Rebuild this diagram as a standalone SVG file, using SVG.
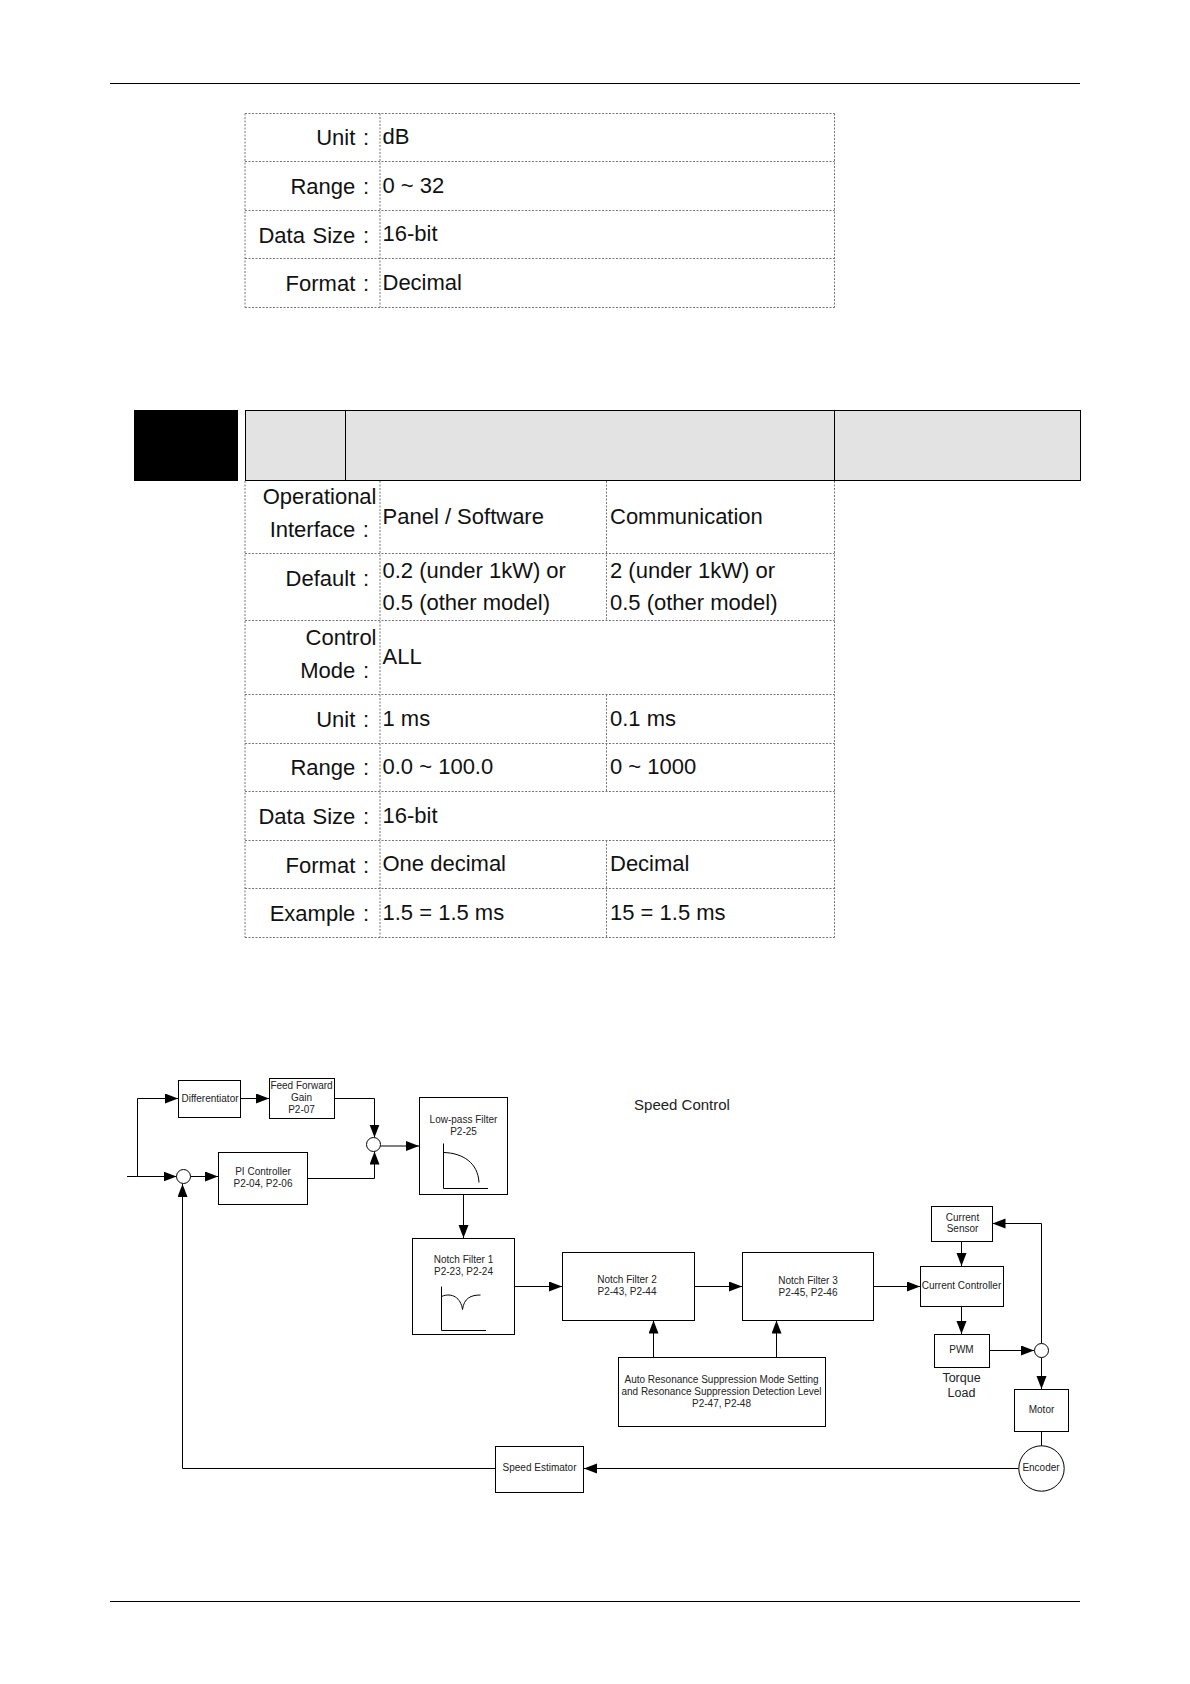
<svg xmlns="http://www.w3.org/2000/svg" width="1190" height="1684" viewBox="0 0 1190 1684">
<defs>
<marker id="ah" markerUnits="userSpaceOnUse" markerWidth="14" markerHeight="11" refX="13" refY="5" orient="auto"><path d="M0 0L13 5L0 10Z" fill="#000"/></marker>
</defs>
<style>
text{font-family:"Liberation Sans",Arial,sans-serif}
.t{font-size:22px;fill:#111}
.l{text-anchor:end;word-spacing:1.5px}
.b{font-size:10px;fill:#222;text-anchor:middle}
.d{stroke:#777;stroke-width:1;stroke-dasharray:2 1.5;fill:none}
.n{fill:#fff;stroke:#000;stroke-width:1}
.c{fill:none;stroke:#000;stroke-width:1}
.a{marker-end:url(#ah)}
.r{stroke:#000;stroke-width:1;fill:none}
</style>
<rect width="1190" height="1684" fill="#fff"/>
<g id="page-rules">
<path class="r" d="M110 83.500H1080M110 1601.500H1080"/>
</g>
<g id="table-top">
<path class="d" d="M245 113.500H834.500M245 161.500H834.500M245 210.500H834.500M245 258.500H834.500M245 307.500H834.500M245 113.500V307.500M380 113.500V307.500M834.500 113.500V307.500"/>
<g class="t">
<text class="l" x="369" y="144.500">Unit :</text><text x="382.500" y="144">dB</text>
<text class="l" x="369" y="194">Range :</text><text x="382.500" y="193">0 ~ 32</text>
<text class="l" x="369" y="242.500">Data Size :</text><text x="382.500" y="241">16-bit</text>
<text class="l" x="369" y="291">Format :</text><text x="382.500" y="290">Decimal</text>
</g>
</g>
<g id="header">
<rect x="134" y="410" width="104" height="71" fill="#000"/>
<rect x="245.500" y="410.500" width="835" height="70" fill="#e3e3e3" stroke="#000"/>
<path class="r" d="M345.500 410.500V480.500M834.500 410.500V480.500"/>
</g>
<g id="table-main">
<path class="d" d="M245 553.500H834.500M245 620.500H834.500M245 694.500H834.500M245 743.500H834.500M245 791.500H834.500M245 840.500H834.500M245 888.500H834.500M245 937.500H834.500M245 481V937.500M380 481V937.500M606.500 481V620.500M606.500 694.500V791.500M606.500 840.500V937.500M834.500 481V937.500"/>
<g class="t">
<text class="l" x="376.500" y="504">Operational</text><text class="l" x="369" y="537">Interface :</text>
<text x="382.500" y="524">Panel / Software</text><text x="610" y="524">Communication</text>
<text class="l" x="369" y="586">Default :</text>
<text x="382.500" y="578">0.2 (under 1kW) or</text><text x="382.500" y="610">0.5 (other model)</text>
<text x="610" y="578">2 (under 1kW) or</text><text x="610" y="610">0.5 (other model)</text>
<text class="l" x="376.500" y="645">Control</text><text class="l" x="369" y="678">Mode :</text>
<text x="382.500" y="664">ALL</text>
<text class="l" x="369" y="727">Unit :</text><text x="382.500" y="726">1 ms</text><text x="610" y="726">0.1 ms</text>
<text class="l" x="369" y="775">Range :</text><text x="382.500" y="774">0.0 ~ 100.0</text><text x="610" y="774">0 ~ 1000</text>
<text class="l" x="369" y="824">Data Size :</text><text x="382.500" y="823">16-bit</text>
<text class="l" x="369" y="873">Format :</text><text x="382.500" y="871">One decimal</text><text x="610" y="871">Decimal</text>
<text class="l" x="369" y="920.500">Example :</text><text x="382.500" y="920">1.5 = 1.5 ms</text><text x="610" y="920">15 = 1.5 ms</text>
</g>
</g>
<text id="title" x="682" y="1110" font-size="15" fill="#222" text-anchor="middle">Speed Control</text>
<g id="connectors">
<path class="c" d="M127 1176.500H137.500"/>
<path class="c a" d="M137.500 1176.500V1098.500H178"/>
<path class="c a" d="M137.500 1176.500H176.500"/>
<path class="c a" d="M240.500 1098.500H269"/>
<path class="c a" d="M334.500 1098.500H374.500V1137.500"/>
<path class="c a" d="M307.500 1178.500H374.500V1151.500"/>
<path class="c a" d="M190.500 1176.500H218"/>
<path class="c a" d="M380.500 1146H419"/>
<path class="c a" d="M463.500 1194.500V1238"/>
<path class="c a" d="M495.500 1468.500H182.500V1184"/>
<path class="c a" d="M1018.500 1468.500H584"/>
<path class="c a" d="M514.500 1286.500H562"/>
<path class="c a" d="M694.500 1286.500H742"/>
<path class="c a" d="M873.500 1286.500H920"/>
<path class="c a" d="M961.500 1241.500V1266"/>
<path class="c a" d="M961.500 1306.500V1334"/>
<path class="c a" d="M989.500 1350.500H1034"/>
<path class="c a" d="M1041.500 1343.500V1223.500H992.500"/>
<path class="c a" d="M1041.500 1357.500V1389"/>
<path class="c" d="M1041.500 1431.500V1446"/>
<path class="c a" d="M653.500 1357.500V1320.500"/>
<path class="c a" d="M776.500 1357.500V1320.500"/>
</g>
<g id="sum1"><circle class="n" cx="183.500" cy="1176.500" r="7"/></g>
<g id="sum2"><circle class="n" cx="373.500" cy="1144.500" r="7"/></g>
<g id="sum3"><circle class="n" cx="1041.500" cy="1350.500" r="7"/></g>
<g id="differentiator"><rect class="n" x="178.500" y="1080.500" width="62" height="37"/><text class="b" x="210" y="1102">Differentiator</text></g>
<g id="feed-forward"><rect class="n" x="269.500" y="1078.500" width="65" height="40"/><text class="b" x="301.500" y="1089">Feed Forward</text><text class="b" x="301.500" y="1101">Gain</text><text class="b" x="301.500" y="1112.500">P2-07</text></g>
<g id="pi-controller"><rect class="n" x="218.500" y="1152.500" width="89" height="52"/><text class="b" x="263" y="1175">PI Controller</text><text class="b" x="263" y="1187">P2-04, P2-06</text></g>
<g id="low-pass"><rect class="n" x="419.500" y="1097.500" width="88" height="97"/><text class="b" x="463.500" y="1122.500">Low-pass Filter</text><text class="b" x="463.500" y="1135">P2-25</text><path class="c" d="M443.500 1143.500V1188.500H488M443.500 1152.500C463 1153 478 1163 479 1182.500"/></g>
<g id="notch1"><rect class="n" x="412.500" y="1238.500" width="102" height="96"/><text class="b" x="463.500" y="1262.500">Notch Filter 1</text><text class="b" x="463.500" y="1274.500">P2-23, P2-24</text><path class="c" d="M441.500 1286.500V1330.500H486M441.500 1296.500C452 1292 461 1298 462.500 1309.500C464 1298 471 1295 480.500 1295"/></g>
<g id="notch2"><rect class="n" x="562.500" y="1252.500" width="132" height="68"/><text class="b" x="627" y="1283">Notch Filter 2</text><text class="b" x="627" y="1295">P2-43, P2-44</text></g>
<g id="notch3"><rect class="n" x="742.500" y="1252.500" width="131" height="68"/><text class="b" x="808" y="1284">Notch Filter 3</text><text class="b" x="808" y="1296">P2-45, P2-46</text></g>
<g id="current-sensor"><rect class="n" x="931.500" y="1206.500" width="61" height="35"/><text class="b" x="962.500" y="1220.500">Current</text><text class="b" x="962.500" y="1232">Sensor</text></g>
<g id="current-controller"><rect class="n" x="920.500" y="1266.500" width="83" height="40"/><text class="b" x="961.500" y="1289">Current Controller</text></g>
<g id="pwm"><rect class="n" x="934.500" y="1334.500" width="55" height="33"/><text class="b" x="961.500" y="1353">PWM</text></g>
<g id="torque-load"><text x="961.500" y="1382" font-size="12.500" fill="#222" text-anchor="middle">Torque</text><text x="961.500" y="1396.500" font-size="12.500" fill="#222" text-anchor="middle">Load</text></g>
<g id="auto-resonance"><rect class="n" x="618.500" y="1357.500" width="207" height="69"/><text class="b" x="721.500" y="1383">Auto Resonance Suppression Mode Setting</text><text class="b" x="721.500" y="1395">and Resonance Suppression Detection Level</text><text class="b" x="721.500" y="1406.500">P2-47, P2-48</text></g>
<g id="motor"><rect class="n" x="1014.500" y="1389.500" width="54" height="42"/><text class="b" x="1041.500" y="1413">Motor</text></g>
<g id="encoder"><circle class="n" cx="1041.500" cy="1468.500" r="22.700"/><text class="b" x="1041" y="1471">Encoder</text></g>
<g id="speed-estimator"><rect class="n" x="495.500" y="1446.500" width="88" height="46"/><text class="b" x="539.500" y="1471">Speed Estimator</text></g>
</svg>
